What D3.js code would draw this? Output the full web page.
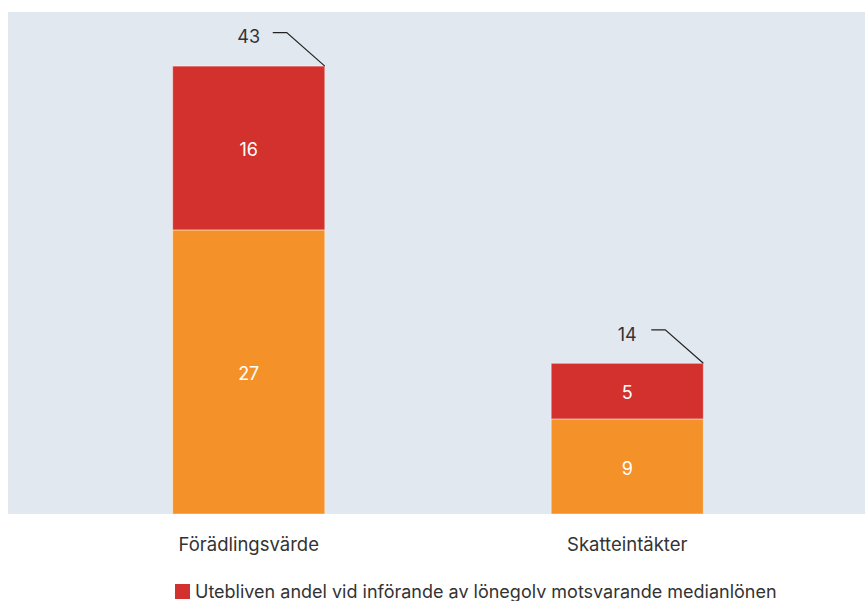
<!DOCTYPE html>
<html><head><meta charset="utf-8">
<script src="https://cdn.jsdelivr.net/npm/d3@7"></script>
<style>
html,body{margin:0;padding:0;background:#fff;overflow:hidden}
svg{display:block;font-family:Inter,"Noto Sans",sans-serif}
</style></head>
<body><svg id="c" width="865" height="601"></svg>
<script>
const categories = ["Förädlingsvärde", "Skatteintäkter"];
const baseValues = [27.05, 9.05];       // orange
const lostValues = [15.6, 5.3];         // red
const totalLabels = ["43", "14"];
const seriesNames = ["Andel med nuvarande löner", "Utebliven andel vid införande av lönegolv motsvarande medianlönen"];
const colors = ["#f59129", "#d3312e"];

const svg = d3.select("#c");
const plot = {left: 8, right: 868, top: 12, bottom: 514};

svg.append("rect").attr("x", plot.left).attr("y", plot.top)
  .attr("width", plot.right - plot.left).attr("height", plot.bottom - plot.top)
  .attr("fill", "#e1e8f0");

const x = d3.scaleBand().domain(categories).range([plot.left, plot.right])
  .paddingInner(0.598).paddingOuter(0.435);
const y = d3.scaleLinear().domain([0, 47.8]).range([plot.bottom, plot.top]);

const data = categories.map((c, i) => ({cat: c, base: baseValues[i], lost: lostValues[i], total: totalLabels[i]}));
const stack = d3.stack().keys(["base", "lost"])(data);

const g = svg.append("g");
stack.forEach((layer, li) => {
  g.selectAll(null).data(layer).enter().append("rect")
    .attr("x", d => x(d.data.cat))
    .attr("y", d => y(d[1]))
    .attr("width", x.bandwidth())
    .attr("height", d => y(d[0]) - y(d[1]))
    .attr("fill", colors[li])
    .attr("stroke", "rgba(255,255,255,0.45)")
    .attr("stroke-width", 1);
  g.selectAll(null).data(layer).enter().append("text")
    .attr("x", d => x(d.data.cat) + x.bandwidth() / 2)
    .attr("y", d => (y(d[0]) + y(d[1])) / 2 + 2)
    .attr("dy", "0.35em")
    .attr("text-anchor", "middle")
    .attr("fill", "#fff")
    .attr("font-size", 18)
    .text(d => Math.round(d[1] - d[0]));
});

// totals with leader lines
data.forEach(d => {
  const cx = x(d.cat) + x.bandwidth() / 2;
  const top = y(d.base + d.lost);
  const rx = x(d.cat) + x.bandwidth();
  svg.append("text").attr("x", cx).attr("y", top - 29).attr("dy", "0.35em")
    .attr("text-anchor", "middle").attr("fill", "#333").attr("font-size", 18)
    .text(d.total);
  svg.append("path")
    .attr("d", `M${cx + 24},${top - 33.5}H${cx + 38}L${rx},${top}`)
    .attr("fill", "none").attr("stroke", "#222").attr("stroke-width", 1.2);
});

// category axis labels
svg.append("g").selectAll("text").data(categories).enter().append("text")
  .attr("x", d => x(d) + x.bandwidth() / 2)
  .attr("y", 545).attr("dy", "0.35em")
  .attr("text-anchor", "middle").attr("fill", "#333").attr("font-size", 18.5)
  .text(d => d);

// legend (only the red series visible in frame)
const lg = svg.append("g").attr("transform", "translate(175,584)");
lg.append("rect").attr("width", 15).attr("height", 15).attr("fill", colors[1]);
lg.append("text").attr("x", 20).attr("y", 14).attr("fill", "#333").attr("font-size", 18)
  .text(seriesNames[1]);
</script></body></html>
